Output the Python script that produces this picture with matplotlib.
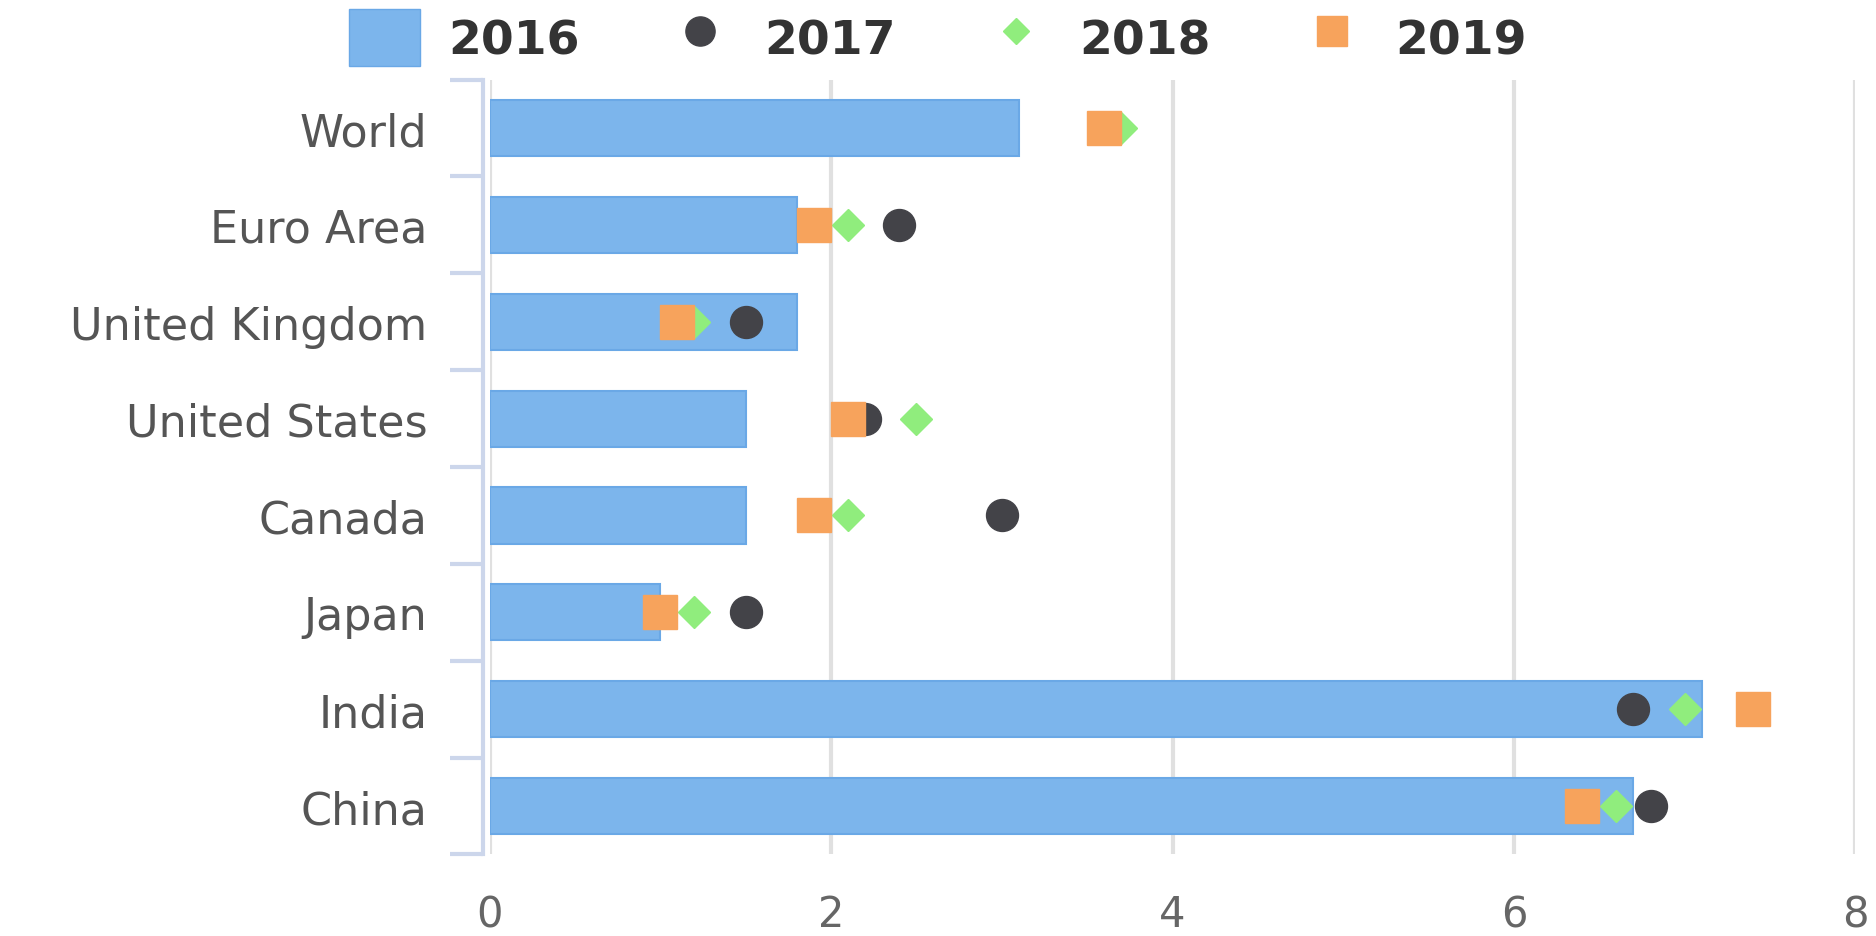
import numpy as np
import matplotlib.pyplot as plt
from matplotlib.lines import Line2D
from matplotlib.patches import Patch

# data
countries = ['World', 'Euro Area', 'United Kingdom', 'United States',
             'Canada', 'Japan', 'India', 'China']
g2016 = [3.1, 1.8, 1.8, 1.5, 1.5, 1.0, 7.1, 6.7]
g2017 = [3.6, 2.4, 1.5, 2.2, 3.0, 1.5, 6.7, 6.8]
g2018 = [3.7, 2.1, 1.2, 2.5, 2.1, 1.2, 7.0, 6.6]
g2019 = [3.6, 1.9, 1.1, 2.1, 1.9, 1.0, 7.4, 6.4]
x_ticks = [0, 2, 4, 6, 8]

c16, c17, c18, c19 = '#7cb5ec', '#434348', '#90ed7d', '#f7a35c'

fig = plt.figure(figsize=(18.76, 9.37), dpi=100)
ax = fig.add_axes([0.261, 0.087, 0.728, 0.827])

y = np.arange(len(countries))

ax.barh(y, g2016, height=0.58, color=c16, edgecolor='#6aa8e6', linewidth=1.5, zorder=2)
ax.plot(g2017, y, 'o', color=c17, markersize=23, linestyle='none', zorder=3)
ax.plot(g2018, y, 'D', color=c18, markersize=16, linestyle='none', zorder=4)
ax.plot(g2019, y, 's', color=c19, markersize=24, linestyle='none', zorder=5)

ax.set_xlim(0, 8)
ax.set_ylim(len(countries) - 0.5, -0.5)
ax.set_xticks(x_ticks)
ax.set_xticklabels([str(t) for t in x_ticks])
ax.set_yticks(y)
ax.set_yticklabels(countries)

ax.grid(axis='x', color='#e0e0e0', linewidth=3, zorder=0)
ax.set_axisbelow(True)

for s in ['top', 'right', 'bottom']:
    ax.spines[s].set_visible(False)
ax.spines['left'].set_color('#ccd6eb')
ax.spines['left'].set_linewidth(3)
ax.spines['left'].set_position(('outward', 5))

# category boundary ticks on the y axis
ax.set_yticks(np.arange(-0.5, len(countries), 1), minor=True)
ax.tick_params(axis='y', which='minor', length=24, width=3, color='#ccd6eb')
ax.tick_params(axis='y', which='major', length=0, pad=40, labelsize=32, labelcolor='#555555')
ax.tick_params(axis='x', length=0, pad=28, labelsize=30, labelcolor='#666666')

handles = [
    Patch(facecolor=c16, edgecolor='#6aa8e6'),
    Line2D([], [], marker='o', color=c17, linestyle='none', markersize=21),
    Line2D([], [], marker='D', color=c18, linestyle='none', markersize=13),
    Line2D([], [], marker='s', color=c19, linestyle='none', markersize=21),
]
fig.legend(handles, ['2016', '2017', '2018', '2019'], loc='upper center',
           bbox_to_anchor=(0.5, 1.035), ncol=4, frameon=False,
           prop={'size': 34, 'weight': 'bold'}, labelcolor='#333333',
           columnspacing=1.8, handlelength=1.5, handleheight=1.5, handletextpad=0.6)

fig.savefig('out.png', dpi=100)
